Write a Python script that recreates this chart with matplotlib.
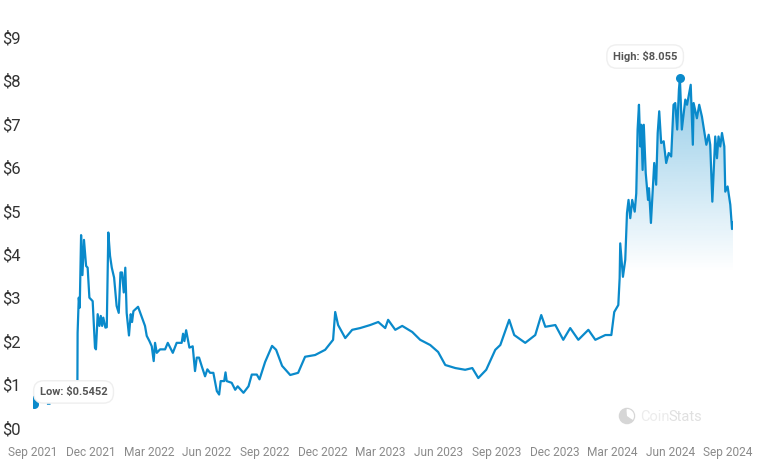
import numpy as np
import matplotlib
matplotlib.use('Agg')
import matplotlib.pyplot as plt
from matplotlib.patches import Wedge, Circle

plt.rcParams['font.family'] = ['Roboto', 'DejaVu Sans']

# x is months since Sep 2021, nan marks the gaps in the series
months = [0.0, 0.03, 0.05, 0.08, 0.12, 0.16, 0.2, np.nan, 0.78, 0.85, np.nan,
          2.30, 2.31, 2.37, 2.42, 2.49, 2.56, 2.64, 2.75, 2.83, 2.92, 3.09, 3.21, 3.26, 3.35, 3.44, 3.51, 3.58, 3.64, 3.75, 3.82,
          3.90, 3.99, 4.08, 4.2, 4.33, 4.44, 4.53, 4.61, 4.70, 4.78, 4.85, 4.97, 5.06, 5.13, 5.2, 5.44, 5.58, 5.8, 5.89, 6.03,
          6.15, 6.25, 6.32, 6.41, 6.58, 6.84, 6.98, 7.24, 7.44, 7.7, 7.77, 7.84, 7.93, 8.1, 8.27, 8.39, 8.48, 8.6, 8.74, 8.91,
          9.03, 9.17, 9.34, 9.52, 9.64, 9.72, 9.9, 9.97, 10.03, 10.29, 10.47, 10.6, 10.9, 11.16, 11.33, 11.59, 11.73,
          12.02, 12.38, 12.59, 12.9, 13.32, 13.73, 14.09, 14.61, 15.13, 15.54, 15.65, 15.8, 16.17, 16.53, 16.94, 17.46, 17.88,
          18.24, 18.39, 18.76, 19.12, 19.64, 20.05, 20.57, 20.98, 21.35, 21.87, 22.38, 22.75, 23.06, 23.47, 23.94, 24.2, 24.66,
          24.92, 25.49, 26.01, 26.32, 26.53, 27.05, 27.46, 27.82, 28.24, 28.76, 29.12, 29.64, 29.95, 30.1, 30.31,
          30.38, 30.41, 30.55, 30.67, 30.76, 30.84, 30.93, 31.03, 31.16, 31.24, 31.31, 31.38, 31.45, 31.5, 31.57, 31.63, 31.73,
          31.85, 31.9, 32.0, 32.1, 32.17, 32.27, 32.35, 32.43, 32.53, 32.66, 32.79, 32.92, 33.05, 33.17, 33.26, 33.36, 33.45,
          33.5, 33.55, 33.6, 33.78, 33.87, 34.06, 34.17, 34.21, 34.38, 34.5, 34.64, 34.87, 34.99, 35.07, 35.18, 35.33, 35.42,
          35.5, 35.59, 35.68, 35.8, 35.85, 35.97, 36.11, 36.2, 36.25]
price = [0.6, 0.72, 0.55, 0.68, 0.5452, 0.62, 0.55, np.nan, 0.56, 0.56, np.nan,
         1.12, 2.19, 3.0, 2.77, 4.44, 3.52, 4.33, 3.73, 3.69, 3.0, 2.92, 1.85, 1.81, 2.62, 2.35, 2.58, 2.35, 2.54, 2.31, 2.32,
         4.5, 3.96, 3.69, 3.46, 2.81, 2.65, 3.58, 3.58, 3.12, 3.69, 2.65, 2.13, 2.62, 2.44, 2.69, 2.79, 2.62, 2.35, 2.12, 2.0,
         1.88, 1.54, 1.96, 1.73, 1.81, 1.81, 1.96, 1.73, 1.96, 1.96, 2.17, 2.0, 2.25, 1.85, 1.88, 1.31, 1.62, 1.62, 1.42, 1.19,
         1.35, 1.27, 1.27, 0.85, 0.77, 1.08, 1.08, 1.28, 1.08, 1.04, 0.88, 0.96, 0.81, 0.96, 1.23, 1.23, 1.12,
         1.52, 1.89, 1.8, 1.43, 1.22, 1.27, 1.64, 1.68, 1.8, 2.03, 2.67, 2.37, 2.07, 2.26, 2.3, 2.37, 2.44,
         2.3, 2.49, 2.26, 2.35, 2.21, 2.03, 1.91, 1.75, 1.45, 1.38, 1.34, 1.38, 1.15, 1.34, 1.8, 1.91, 2.49,
         2.14, 1.96, 2.14, 2.6, 2.33, 2.37, 2.03, 2.3, 2.03, 2.26, 2.03, 2.14, 2.14, 2.67, 2.83,
         3.45, 4.25, 3.48, 3.87, 4.95, 5.25, 4.83, 5.25, 4.98, 5.4, 6.87, 7.44, 6.48, 6.98, 5.94, 6.98, 5.87,
         5.25, 5.52, 4.72, 5.56, 6.1, 5.6, 6.79, 7.29, 6.56, 6.6, 6.1, 6.33, 6.25, 7.44, 7.48, 6.87, 7.79,
         8.055, 7.48, 6.87, 7.56, 7.44, 7.9, 6.52, 7.48, 7.13, 7.44, 7.17, 6.52, 6.75, 6.52, 5.21, 6.71, 6.21,
         6.71, 6.48, 6.79, 6.48, 5.44, 5.56, 5.14, 4.58, 4.73]

tick_months = np.arange(0, 37, 3)
tick_labels = ['Sep 2021', 'Dec 2021', 'Mar 2022', 'Jun 2022', 'Sep 2022', 'Dec 2022', 'Mar 2023',
               'Jun 2023', 'Sep 2023', 'Dec 2023', 'Mar 2024', 'Jun 2024', 'Sep 2024']
y_ticks = np.arange(0, 10)
low_month, low_price = 0.05, 0.5452
high_month, high_price = 33.5, 8.055

W, H = 764, 472
blue = '#0a8acb'

fig = plt.figure(figsize=(W/100, H/100), dpi=100)
ax = fig.add_axes([33/W, (H-428)/H, 700/W, 391/H])
x = np.array(months)
y = np.array(price)

ax.plot(x, y, color=blue, lw=1.6, solid_joinstyle='round', zorder=3)

# vertical gradient under the line, fades out at about $3.6
ok = ~np.isnan(y)
grad = np.zeros((256, 2, 4))
grad[..., :3] = matplotlib.colors.to_rgb(blue)
grad[..., 3] = np.clip(np.linspace(0.45, -0.0, 256)[:, None], 0, 1)
im = ax.imshow(grad, extent=[0, 36.25, 3.6, 8.055], origin='upper', aspect='auto', zorder=1)
poly = ax.fill_between(x[ok], 0, y[ok], color='none')
clip = plt.Polygon(np.column_stack([np.r_[x[ok], x[ok][-1], x[ok][0]], np.r_[y[ok], 0, 0]]),
                   transform=ax.transData, fill=False, edgecolor='none')
ax.add_patch(clip)
im.set_clip_path(clip)

ax.plot([low_month, high_month], [low_price, high_price], 'o', color=blue, ms=6.5, mew=0, zorder=4)

pill = dict(boxstyle='round,pad=0.55,rounding_size=0.9', fc='white', ec='#efefef', lw=1)
ax.text(2.1, 0.83, 'Low: $0.5452'.replace('$', r'\$'), fontsize=8, fontweight='bold', color='#555555',
        ha='center', va='center', bbox=pill, zorder=5)
ax.text(31.7, 8.55, 'High: $8.055'.replace('$', r'\$'), fontsize=8, fontweight='bold', color='#555555',
        ha='center', va='center', bbox=pill, zorder=5)

ax.set_xlim(0, 36.25)
ax.set_ylim(0, 9)
ax.set_xticks(tick_months)
ax.set_xticklabels(tick_labels, fontsize=8.6, color='#8a8a8a')
ax.set_yticks(y_ticks)
ax.set_yticklabels([r'\$%d' % v for v in y_ticks], fontsize=12, color='#333333')
ax.tick_params(length=0)
ax.tick_params(axis='x', pad=13)
ax.tick_params(axis='y', pad=9)
for s in ax.spines.values():
    s.set_visible(False)
ax.patch.set_alpha(0)

# CoinStats watermark
logo = fig.add_axes([617/W, (H-426)/H, 20/W, 20/H])
logo.set_xlim(-10, 10)
logo.set_ylim(-10, 10)
logo.axis('off')
logo.add_patch(Circle((0, 0), 7, fc='none', ec='#d6d6d6', lw=1.8))
logo.add_patch(Wedge((0, 0), 7, -35, 95, fc='white', ec='none'))
logo.add_patch(Wedge((0, 0), 7, 95, 325, fc='#d6d6d6', ec='none'))
fig.text(640/W, (H-417)/H, 'Coin', fontsize=10.5, color='#ececec', va='center', ha='left')
fig.text(668/W, (H-417)/H, 'Stats', fontsize=10.5, color='#e0e0e0', va='center', ha='left')

fig.savefig('out.png', dpi=100)
